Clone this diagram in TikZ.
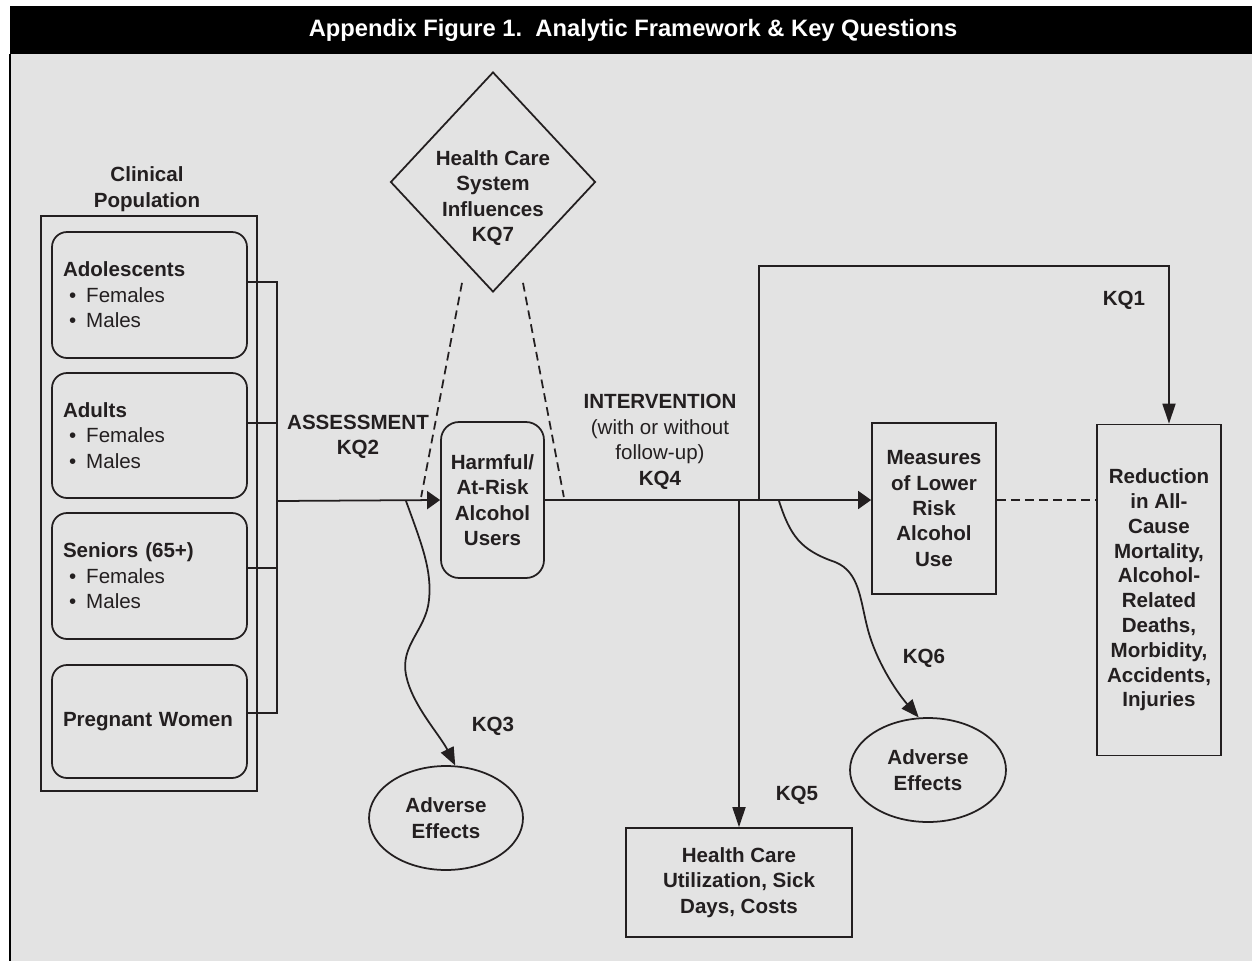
\documentclass[tikz,border=0pt]{standalone}
\usepackage{fontspec}
\setmainfont{Liberation Sans}
\usepackage{xcolor}
\definecolor{textdark}{HTML}{231F20}
\definecolor{panelgray}{HTML}{E3E3E3}
\usepackage{tikz}
\usetikzlibrary{shapes,arrows.meta,positioning,calc}
\newcommand{\figfont}{\fontsize{11.7}{14.5}\selectfont\bfseries}
\newcommand{\bul}{\mdseries\hspace*{0.12cm}\textbullet\hspace{0.2cm}}

\begin{document}
\begin{tikzpicture}[x=0.02cm, y=-0.02cm, line width=1pt, color=textdark, font=\figfont,
    harr/.style={-{Triangle[length=0.26cm,width=0.36cm]}},
    varr/.style={-{Triangle[length=0.4cm,width=0.26cm]}},
    carr/.style={-{Triangle[length=0.36cm,width=0.28cm]}},
    dashline/.style={dash pattern=on 5pt off 3pt},
    grpbox/.style={draw, rounded corners=0.3cm, text width=3.46cm, inner xsep=0.22cm, align=left},
    plainbox/.style={draw, align=center},
    advoval/.style={draw, ellipse, minimum height=2.08cm, align=center}]
          \useasboundingbox (0,0) rectangle (1252,961);
          \fill[panelgray] (10,54) rectangle (1252,961);
          \fill[black] (10,6) rectangle (1252,54);
          \draw[black, line width=0.8pt] (10,54) -- (10,961);
          \node[font=\fontsize{13.5}{16}\selectfont\bfseries, text=white] (title) at (633,30) {Appendix Figure 1.~~Analytic Framework \& Key Questions};

          \node[align=center] (poplbl) at (147,189) {Clinical\\Population};
          \node[draw, minimum width=4.32cm, minimum height=11.5cm] (pop) at (149,503.5) {};
          \node[grpbox, minimum height=2.52cm] (ado) at (149.5,295) {Adolescents\\\bul Females\\\bul Males};
          \node[grpbox, minimum height=2.5cm] (adu) at (149.5,435.5) {Adults\\\bul Females\\\bul Males};
          \node[grpbox, minimum height=2.52cm] (sen) at (149.5,576) {Seniors (65+)\\\bul Females\\\bul Males};
          \node[grpbox, minimum height=2.26cm] (preg) at (149.5,721.5) {Pregnant Women};

          \node[draw, diamond, minimum width=4.1cm, minimum height=4.4cm, inner sep=0pt] (hcs) at (493,182) {};
          \node[align=center] (hcstxt) at (493,198) {Health Care\\System\\Influences\\KQ7};
          \node[draw, rounded corners=0.36cm, minimum width=2.06cm, minimum height=3.12cm, align=center] (harm) at (492.5,500) {Harmful/\\At-Risk\\Alcohol\\Users};
          \node[plainbox, minimum width=2.48cm, minimum height=3.42cm] (meas) at (934,508.5) {Measures\\of Lower\\Risk\\Alcohol\\Use};
          \node[plainbox, minimum width=2.48cm, minimum height=6.62cm, font=\fontsize{11.7}{14.1}\selectfont\bfseries] (red) at (1159,590) {Reduction\\in All-\\Cause\\Mortality,\\Alcohol-\\Related\\Deaths,\\Morbidity,\\Accidents,\\Injuries};
          \node[plainbox, minimum width=4.52cm, minimum height=2.18cm] (hcu) at (739,882.5) {Health Care\\Utilization, Sick\\Days, Costs};
          \node[advoval, minimum width=3.08cm] (adv1) at (446,818) {Adverse\\Effects};
          \node[advoval, minimum width=3.12cm] (adv2) at (928,770) {Adverse\\Effects};

          \node[align=center] (kq2) at (358,437) {ASSESSMENT\\KQ2};
          \node[align=center] (kq4) at (660,442) {INTERVENTION\\\mdseries(with or without\\\mdseries follow-up)\\KQ4};
          \node (kq1) at (1124,300) {KQ1};
          \node (kq3) at (493,726) {KQ3};
          \node (kq5) at (797,795) {KQ5};
          \node (kq6) at (924,658) {KQ6};

          \coordinate (bus) at (277,501);
          \coordinate (kq3a) at (406,501);
          \coordinate (kq5a) at (739,501);
          \coordinate (kq1a) at (759,501);
          \coordinate (kq6a) at (779,501);
          \coordinate (kq1top) at (759,266);

          \draw ([yshift=0.26cm]ado.east) -| (bus);
          \draw ([yshift=0.25cm]adu.east) -| (bus);
          \draw ([yshift=0.16cm]sen.east) -| (bus);
          \draw ([yshift=0.17cm]preg.east) -| (bus);
          \draw[harr] (bus) -- (harm.west);
          \draw[harr] (harm.east) -- (meas.west |- harm.east);
          \draw[dashline] (meas.east |- harm.east) -- (red.west |- harm.east);
          \draw[varr] (kq1a) -- (kq1top) -| ([xshift=0.2cm]red.north);
          \draw[varr] (kq5a) -- (hcu.north);
          \draw[dashline] ([xshift=-0.62cm,yshift=0.2cm]hcs.south) -- ([xshift=-0.38cm,yshift=0.06cm]harm.west);
          \draw[dashline] ([xshift=0.6cm,yshift=0.2cm]hcs.south) -- ([xshift=0.38cm,yshift=0.06cm]harm.east);
          \draw[carr] (kq3a) .. controls (422,545) and (432,570) .. (429,600) .. controls (426,630) and (400,645) .. (406,675) .. controls (412,705) and (440,735) .. (adv1.80);
          \draw[carr] (kq6a) .. controls (790,535) and (800,550) .. (835,562) .. controls (860,572) and (860,600) .. (868,630) .. controls (876,660) and (895,690) .. (adv2.100);
        \end{tikzpicture}
\end{document}
